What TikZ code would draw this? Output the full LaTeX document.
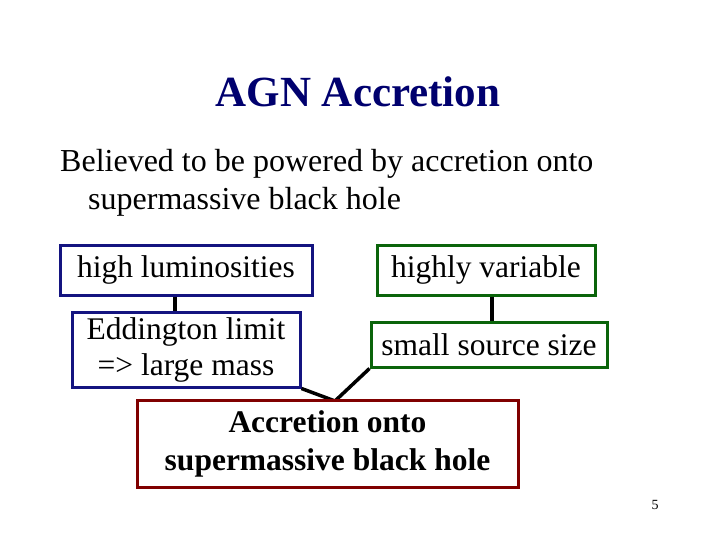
\documentclass[tikz,border=0pt]{standalone}
\usepackage{fontspec}
\setmainfont{Liberation Serif}
\definecolor{titleblue}{RGB}{0,0,110}
\definecolor{boxblue}{RGB}{20,20,128}
\definecolor{boxgreen}{RGB}{10,100,10}
\definecolor{boxred}{RGB}{128,0,0}
\begin{document}
\begin{tikzpicture}[x=1pt,y=-1pt,
  box/.style={draw,line width=3pt,fill=white,inner sep=0pt,align=center,
    font=\fontsize{31.5}{36}\selectfont},
  link/.style={line width=3.5pt,black},
  txt/.style={inner sep=0pt,font=\fontsize{32}{38}\selectfont}]
\useasboundingbox (0,0) rectangle (720,540);
\node[inner sep=0pt,anchor=base,text=titleblue,font=\fontsize{43}{50}\selectfont\bfseries] (title) at (358,107) {AGN Accretion};
\node[txt,anchor=base west] (l1) at (60,172) {Believed to be powered by accretion onto};
\node[txt,anchor=base west] (l2) at (88,210) {supermassive black hole};
\node[box,draw=boxblue,minimum width=252,minimum height=50] (lum) at (186,270) {\raisebox{-2pt}{high luminosities}};
\node[box,draw=boxblue,minimum width=228,minimum height=75] (edd) at (186,349.5) {Eddington limit\\=> large mass};
\node[box,draw=boxgreen,minimum width=218,minimum height=50] (var) at (486,270) {\raisebox{-2pt}{highly variable}};
\node[box,draw=boxgreen,minimum width=236,minimum height=45] (src) at (489,344.5) {small source size};
\coordinate (J) at (335,401);
\draw[link] ([xshift=-11pt]lum.south) -- ([xshift=-11pt]edd.north);
\draw[link] ([xshift=6pt]var.south) -- ([xshift=3pt]src.north);
\draw[link] (edd.south east) -- (J) -- (src.south west);
\node[box,draw=boxred,minimum width=381,minimum height=87,font=\fontsize{31.5}{38}\selectfont\bfseries] (acc) at (327.5,443.5) {Accretion onto\\supermassive\ black hole};
\node[inner sep=0pt,font=\fontsize{14}{16}\selectfont] (pg) at (655,505) {5};
\end{tikzpicture}
\end{document}
